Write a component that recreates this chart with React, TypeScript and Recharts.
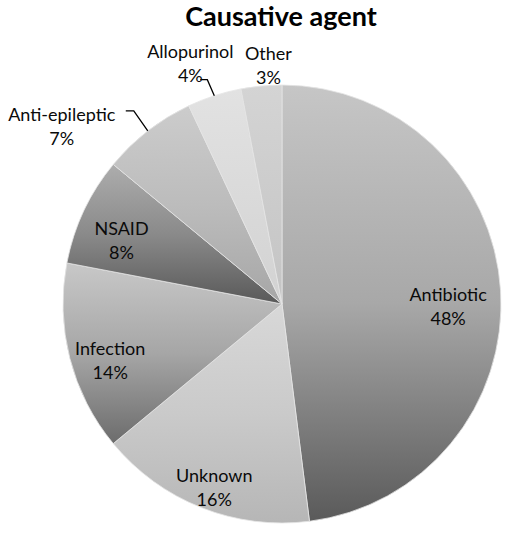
import { PieChart, Pie, Cell } from "recharts";

const categories = ["Antibiotic", "Unknown", "Infection", "NSAID", "Anti-epileptic", "Allopurinol", "Other"];
const shares = [48, 16, 14, 8, 7, 4, 3];
const data = categories.map((name, i) => ({ name, value: shares[i] }));

// per-slice gradient: top, middle, bottom colour
const gradTop = ["#c6c6c6", "#d8d8d8", "#c8c8c8", "#adadad", "#cccccc", "#e2e2e2", "#d4d4d4"];
const gradMid = ["#a8a8a8", "#cacaca", "#a6a6a6", "#8a8a8a", "#bcbcbc", "#dadada", "#cccccc"];
const gradBottom = ["#5a5a5a", "#b6b6b6", "#6c6c6c", "#595959", "#a6a6a6", "#d2d2d2", "#c4c4c4"];

const RAD = Math.PI / 180;
const FONT = "Lato, 'Open Sans', sans-serif";

// label layout: inside radius factor, or outside offsets relative to the slice edge
const labelStyle: Record<number, any> = {
  0: { r: 0.76 },
  1: { r: 0.84 },
  2: { r: 0.81 },
  3: { r: 0.81 },
  4: { dx: -86, dy: -17, leader: [[-14, -20], [-22, -20]] },
  5: { dx: -24, dy: -45, leader: [[-7, -16], [-14, -16]] },
  6: { dx: 7, dy: -33 },
};

function renderLabel(props: any) {
  const { cx, cy, midAngle, outerRadius, index, name, value } = props;
  const s = labelStyle[index];
  const cos = Math.cos(-midAngle * RAD);
  const sin = Math.sin(-midAngle * RAD);
  let x: number;
  let y: number;
  let leader: string | null = null;
  if (s.r) {
    x = cx + outerRadius * s.r * cos;
    y = cy + outerRadius * s.r * sin;
  } else {
    const ex = cx + outerRadius * cos;
    const ey = cy + outerRadius * sin;
    x = ex + s.dx;
    y = ey + s.dy;
    if (s.leader) {
      leader = `M${ex},${ey}` + s.leader.map((p: number[]) => `L${ex + p[0]},${ey + p[1]}`).join("");
    }
  }
  return (
    <g>
      {leader && <path d={leader} stroke="#000" strokeWidth={1.3} fill="none" />}
      <text x={x} y={y} textAnchor="middle" dominantBaseline="central" fontFamily={FONT} fontSize={18} fill="#0a0a0a">
        {name}
      </text>
      <text x={x} y={y + 24} textAnchor="middle" dominantBaseline="central" fontFamily={FONT} fontSize={18} fill="#0a0a0a">
        {value}%
      </text>
    </g>
  );
}

export default function App() {
  return (
    <div style={{ position: "absolute", left: 0, top: 0, width: 510, height: 537, background: "#fff" }}>
      <PieChart width={510} height={537} margin={{ top: 0, right: 0, bottom: 0, left: 0 }}>
        <defs>
          {categories.map((c, i) => (
            <linearGradient key={c} id={`g${i}`} x1="0" y1="0" x2="0" y2="1">
              <stop offset="0%" stopColor={gradTop[i]} />
              <stop offset="50%" stopColor={gradMid[i]} />
              <stop offset="100%" stopColor={gradBottom[i]} />
            </linearGradient>
          ))}
        </defs>
        <Pie
          data={data}
          dataKey="value"
          nameKey="name"
          cx={282}
          cy={304}
          outerRadius={219}
          startAngle={90}
          endAngle={-270}
          stroke="#e4e4e4"
          strokeWidth={0.8}
          label={renderLabel}
          labelLine={false}
          isAnimationActive={false}
        >
          {data.map((d, i) => (
            <Cell key={d.name} fill={`url(#g${i})`} />
          ))}
        </Pie>
      </PieChart>
      <div
        style={{
          position: "absolute",
          left: 52,
          top: 1,
          width: 458,
          zIndex: 2,
          textAlign: "center",
          fontFamily: FONT,
          fontWeight: 700,
          fontSize: 27,
          lineHeight: "30px",
          color: "#000",
          pointerEvents: "none",
        }}
      >
        Causative agent
      </div>
    </div>
  );
}
